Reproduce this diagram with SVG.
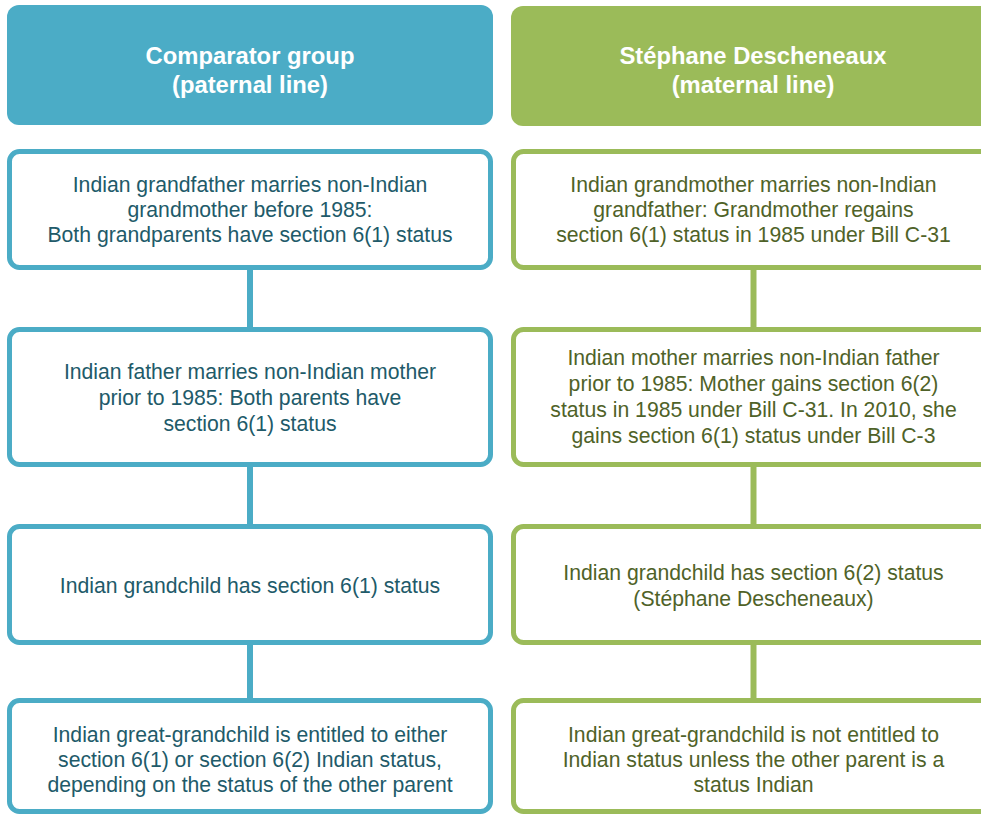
<svg xmlns="http://www.w3.org/2000/svg" width="981" height="814" viewBox="0 0 981 814">
<style>
.hb{fill:#4BACC6}
.hg{fill:#9BBB59}
.bb{fill:#fff;stroke:#4BACC6;stroke-width:5}
.bg{fill:#fff;stroke:#9BBB59;stroke-width:5}
.ht{font-family:"Liberation Sans",Arial,sans-serif;font-weight:bold;font-size:23.8px;fill:#fff;text-anchor:middle}
.tb{font-family:"Liberation Sans",Arial,sans-serif;font-size:21.2px;fill:#215A69;text-anchor:middle}
.tg{font-family:"Liberation Sans",Arial,sans-serif;font-size:21.2px;fill:#4F6228;text-anchor:middle}
.cb{stroke:#4BACC6;stroke-width:6}
.cg{stroke:#9BBB59;stroke-width:6}
</style>
<rect width="981" height="814" fill="#fff"/>
<g id="connectors">
<line class="cb" x1="250" y1="268" x2="250" y2="330"/>
<line class="cb" x1="250" y1="465" x2="250" y2="527"/>
<line class="cb" x1="250" y1="643" x2="250" y2="701"/>
<line class="cg" x1="753.5" y1="268" x2="753.5" y2="330"/>
<line class="cg" x1="753.5" y1="465" x2="753.5" y2="527"/>
<line class="cg" x1="753.5" y1="643" x2="753.5" y2="701"/>
</g>
<g id="header-left">
<rect class="hb" x="7" y="5" width="486" height="120" rx="12"/>
<text class="ht" x="250" y="64">Comparator group</text>
<text class="ht" x="250" y="93">(paternal line)</text>
</g>
<g id="header-right">
<rect class="hg" x="511" y="6" width="500" height="120" rx="12"/>
<text class="ht" x="753" y="64">Stéphane Descheneaux</text>
<text class="ht" x="753" y="93">(maternal line)</text>
</g>
<g id="left-1">
<rect class="bb" x="9.5" y="151.5" width="481" height="116" rx="10"/>
<text class="tb" x="250" y="192">Indian grandfather marries non-Indian</text>
<text class="tb" x="250" y="217">grandmother before 1985:</text>
<text class="tb" x="250" y="242">Both grandparents have section 6(1) status</text>
</g>
<g id="left-2">
<rect class="bb" x="9.5" y="329.5" width="481" height="135" rx="10"/>
<text class="tb" x="250" y="379">Indian father marries non-Indian mother</text>
<text class="tb" x="250" y="405">prior to 1985: Both parents have</text>
<text class="tb" x="250" y="431">section 6(1) status</text>
</g>
<g id="left-3">
<rect class="bb" x="9.5" y="526.5" width="481" height="116" rx="10"/>
<text class="tb" x="250" y="593">Indian grandchild has section 6(1) status</text>
</g>
<g id="left-4">
<rect class="bb" x="9.5" y="700.5" width="481" height="111" rx="10"/>
<text class="tb" x="250" y="742">Indian great-grandchild is entitled to either</text>
<text class="tb" x="250" y="767">section 6(1) or section 6(2) Indian status,</text>
<text class="tb" x="250" y="792">depending on the status of the other parent</text>
</g>
<g id="right-1">
<rect class="bg" x="513.5" y="151.5" width="500" height="116" rx="10"/>
<text class="tg" x="753.5" y="192">Indian grandmother marries non-Indian</text>
<text class="tg" x="753.5" y="217">grandfather: Grandmother regains</text>
<text class="tg" x="753.5" y="242">section 6(1) status in 1985 under Bill C-31</text>
</g>
<g id="right-2">
<rect class="bg" x="513.5" y="329.5" width="500" height="135" rx="10"/>
<text class="tg" x="753.5" y="365">Indian mother marries non-Indian father</text>
<text class="tg" x="753.5" y="391">prior to 1985: Mother gains section 6(2)</text>
<text class="tg" x="753.5" y="417">status in 1985 under Bill C-31. In 2010, she</text>
<text class="tg" x="753.5" y="443">gains section 6(1) status under Bill C-3</text>
</g>
<g id="right-3">
<rect class="bg" x="513.5" y="526.5" width="500" height="116" rx="10"/>
<text class="tg" x="753.5" y="580">Indian grandchild has section 6(2) status</text>
<text class="tg" x="753.5" y="606">(Stéphane Descheneaux)</text>
</g>
<g id="right-4">
<rect class="bg" x="513.5" y="700.5" width="500" height="111" rx="10"/>
<text class="tg" x="753.5" y="742">Indian great-grandchild is not entitled to</text>
<text class="tg" x="753.5" y="767">Indian status unless the other parent is a</text>
<text class="tg" x="753.5" y="792">status Indian</text>
</g>
</svg>
